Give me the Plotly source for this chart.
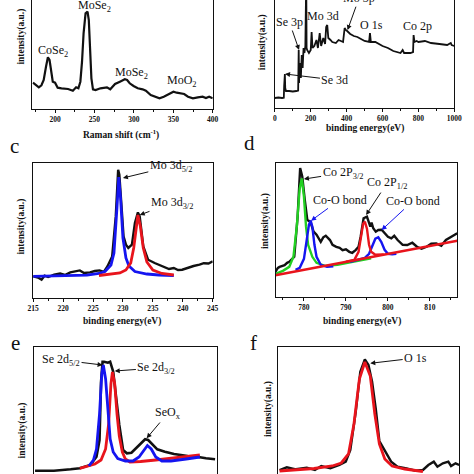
import plotly.graph_objects as go

# ---------------- data ----------------
# (a) Raman
raman_shift = [172.0,175.3,179.4,182.7,185.6,188.5,190.9,193.0,195.1,197.1,200.0,203.3,208.2,216.5,222.6,226.7,229.6,232.1,234.2,236.2,238.7,241.2,242.8,244.4,246.1,248.1,251.4,257.6,265.8,270.0,276.1,282.3,288.5,291.4,294.7,299.6,304.9,311.1,315.2,321.4,327.6,332.5,337.9,342.0,346.1,350.2,354.3,358.4,363.8,368.7,374.9,381.1,387.2,391.4,395.5,400.0]
raman_int = [26.3,24,21.7,23.7,29,42.3,51.7,49,37.3,27.3,26.3,21.3,20.7,20,18.3,21.7,20.7,27.3,47.3,75.7,95.7,97.3,89,59,30.7,19.7,19,20.7,21.7,19.7,25,27.3,29.7,29,25.7,23,20.7,19.7,18.3,14,12.3,10.7,12.3,14,15,17.3,16.3,15.7,15,12.3,10.7,11.7,12.3,11,12.3,10.7]

# (b) XPS survey
survey_e = [0,20,40,50,52,54,56,58,62,80,100,120,130,133,135,138,145,150,155,160,165,170,173,175,177,180,190,200,205,210,220,232,240,250,258,270,280,286,292,298,310,320,340,355,368,380,389,395,403,420,440,460,480,500,525,530,535,560,600,630,660,700,712,720,755,770,773,778,790,800,836,870,917,960,980,985,1000]
survey_int = [10,10.5,10,10.3,22,34,34,20,17,17,16.5,17,17.5,58,25,45,30,53,40,60,55,62,130,130,60,58,55,58,76,60,62,68,60,75,62,70,64,81,83,70,68,66,65,68,67,66,80,78,77,74,72,71,69,67,66,75,66,66,62,60,57,55,58,55,55,56,73,66,67,66,67,65,64,63,65,63,62]

# (c) Mo 3d
mo_e = [215,215.8,216.4,216.9,217.5,218.5,219.5,220.3,221.2,222.0,222.8,223.5,224.5,225.3,226.1,226.8,227.4,228.2,228.8,229.2,229.4,229.8,230.1,230.5,230.9,231.5,232.0,232.5,232.8,233.4,234.2,235.3,236.1,236.9,237.7,238.5,239.2,239.9,240.5,241.2,241.8,242.8,243.5,244.3,245]
mo_int = [21.6,20.5,18.3,22.3,21.0,23.3,24.5,23.0,25.6,26.5,27.6,25.0,25.6,27.0,27.6,26.2,31.6,41.6,81.6,128.3,123.3,88.3,61.6,53.3,50,53.3,75,85.6,81.6,51.6,38.3,35,33.2,31.6,29.0,30,28.0,28.3,29.5,31,32.0,33.3,34.8,34.5,36.6]
mo52_e = [215,220,224,226,227,228,228.5,229,229.3,229.6,230,230.5,231,232,234,236,238.5]
mo52_int = [21.6,22,22.8,24.5,26.5,33,45,90,121,100,60,40,32,26.5,24,23,22.5]
mo32_e = [226,228,229.5,230.5,231.3,231.8,232.2,232.5,232.9,233.4,234,235,236.5,238.5]
mo32_int = [22.5,23.5,25,28,35,50,72,83,72,50,36,28,24.5,23]

# (d) Co 2p
co_e = [773.2,773.8,774.2,775.4,776.0,776.5,777.7,778.5,779.1,779.6,780.2,780.8,781.5,782.3,783.0,783.5,784.0,784.6,785.2,786.2,786.8,787.7,788.5,789.2,790.0,790.8,791.5,792.3,793.0,793.5,794.2,795.0,795.8,796.1,796.5,797.1,797.7,798.5,799.2,800.0,800.8,801.5,802.3,803.5,804.6,805.8,806.9,808.0,809.2,810.3,811.5,812.7,813.8,815.0,816.5]
co_int = [25,29,30,31.7,34,35,40,80,128.4,120,96.7,76.7,75,65,62,58.4,55,59.4,61,56.7,52,50,49,46.7,47.5,45,44,46.7,50,60,78.4,80,70,74,68.4,65,66.7,67,63.4,60,58.4,61,56.7,52,51.7,54,50,48,50,53,53.4,51,56.7,60,63.4]
co_bg_e = [773.2,816.5]
co_bg_int = [21.7,56]
co12_e = [790,792,793,793.6,794.1,794.5,795,795.5,796,797,799]
co12_int = [35.2,37,45,60,73,75,68,52,45,42,42.3]
co32_e = [773.2,775,776.5,777.5,778.3,779,779.5,780,780.5,781,782,783,785,788,791,794,796]
co32_int = [23,26,30,40,70,108,118,100,70,52,40,34,31,32,34.5,37,38.5]
coo1_e = [778,779,780,780.6,781.2,781.6,782,782.5,783,784,785.5,787]
coo1_int = [27,29,38,55,72,76,70,52,40,32,30,30.5]
coo2_e = [791,793,794.5,795.5,796.3,797,797.7,798.4,799.2,800,801,802]
coo2_int = [35,37,39,43,52,58,59.5,55,47,43,42.5,43]

# (e) Se 3d
se_e = [51.06,52.3,53.4,54.0,54.7,55.1,55.3,55.4,55.5,55.6,55.85,56.0,56.2,56.4,56.6,56.85,57.1,57.4,57.8,58.1,58.3,58.5,58.8,59.1,59.6,60.2,61.1,61.7,62.3,62.9]
se_int = [3.3,3.3,4.7,5.7,9,17.3,34,92,112.3,112.3,111.3,112.3,102.3,75.7,49,24,20.7,21.3,27.3,32.3,34.7,34,29,24.7,22.3,20,18,17.3,15.7,14.7]
se52_e = [54.6,54.9,55.1,55.3,55.45,55.55,55.7,55.85,56.0,56.2,56.5,57,57.5,57.9,58.2,58.45,58.7,59.0,59.4,60,61,61.9]
se52_int = [8,14,25,60,100,109,95,60,35,22,15.5,13,13,17,24,28.5,25,17,13,13,15,17]
se32_e = [54.0,54.5,55.0,55.4,55.7,55.9,56.05,56.15,56.3,56.45,56.6,56.8,57.0,57.3,58,59,60,61,61.9]
se32_int = [5.7,7.5,10,14,25,50,90,102,90,60,38,22,15,12,12.5,14,15.7,17.5,19]

# (f) O 1s
o_e = [526.1,526.5,527.0,527.6,528.05,528.4,528.9,529.4,529.75,530.0,530.3,530.55,530.8,531.0,531.2,531.4,531.6,531.9,532.25,532.6,533.1,533.6,534.0,534.3,534.6,534.8,535.1,535.4,535.55,535.8,536]
o_int = [4,6.7,4.7,6.3,4,8,5.7,9,12.3,24,62.3,102.3,114.7,109,92.3,65.7,33,24,12.3,7.3,5.7,3.3,4,9,12.3,7.3,10.7,12.3,8,10.7,9]
ofit_e = [526.1,527,528,529,529.5,529.9,530.2,530.5,530.8,531.1,531.35,531.6,531.9,532.3,533,534]
ofit_int = [3,4.5,5.5,8,11,20,50,95,112,98,60,30,15,8,5,2.5]

# ---------------- figure ----------------
W = H = 474
SERIF = "Liberation Serif"
BLACK = "#111111"
BLUE = "#1515f0"
RED = "#e8141c"
GREEN = "#22d022"

def fx(p):
    return p / W

def fy(p):
    return 1 - p / H

fig = go.Figure()

def line(x, y, color, width, n):
    fig.add_trace(go.Scatter(
        x=x, y=y, mode="lines", line=dict(color=color, width=width),
        xaxis="x" if n == 1 else "x%d" % n, yaxis="y" if n == 1 else "y%d" % n,
        showlegend=False, hoverinfo="skip"))

line(raman_shift, raman_int, BLACK, 2.2, 1)
line(survey_e, survey_int, BLACK, 1.8, 2)
line(mo_e, mo_int, BLACK, 2.4, 3)
line(mo52_e, mo52_int, BLUE, 2.8, 3)
line(mo32_e, mo32_int, RED, 2.8, 3)
line(co_e, co_int, BLACK, 2.4, 4)
line(co32_e, co32_int, GREEN, 2.4, 4)
line(coo1_e, coo1_int, BLUE, 2.4, 4)
line(coo2_e, coo2_int, BLUE, 2.4, 4)
line(co12_e, co12_int, RED, 2.4, 4)
line(co_bg_e, co_bg_int, RED, 2.4, 4)
line(se_e, se_int, BLACK, 2.6, 5)
line(se32_e, se32_int, RED, 2.8, 5)
line(se52_e, se52_int, BLUE, 2.8, 5)
line(o_e, o_int, BLACK, 2.4, 6)
line(ofit_e, ofit_int, RED, 2.8, 6)

panels = {
    1: dict(xd=(27, 213), yd=(0, 109), xr=[171, 400], yr=[0, 109], dt=50, mdt=25, mode="topcut"),
    2: dict(xd=(277, 462), yd=(0, 108), xr=[0, 1000], yr=[0, 108], dt=200, mdt=100, mode="topcut"),
    3: dict(xd=(28, 213), yd=(163, 298), xr=[215, 245], yr=[0, 135], dt=5, mdt=2.5, mode="box"),
    4: dict(xd=(278, 465), yd=(163, 297), xr=[773.3, 816.5], yr=[0, 133.4], dt=10, mdt=5, mode="box"),
    5: dict(xd=(29, 217), yd=(347, 474), xr=[51, 63], yr=[0, 127], dt=2, mdt=1, mode="botcut"),
    6: dict(xd=(280, 467), yd=(347, 474), xr=[526, 536], yr=[0, 127], dt=2, mdt=1, mode="botcut"),
}

layout = dict(width=W, height=H, margin=dict(l=0, r=0, t=0, b=0),
              paper_bgcolor="white", plot_bgcolor="white", showlegend=False)

for n, p in panels.items():
    xk = "xaxis" if n == 1 else "xaxis%d" % n
    yk = "yaxis" if n == 1 else "yaxis%d" % n
    xa = dict(domain=[fx(p["xd"][0]), fx(p["xd"][1])], range=p["xr"],
              showgrid=False, zeroline=False, showline=True, linecolor=BLACK,
              linewidth=1.3, anchor="y" if n == 1 else "y%d" % n,
              tickfont=dict(family=SERIF, size=7.5, color=BLACK, weight="bold"))
    if p["mode"] == "botcut":
        xa.update(side="top", ticks="", showticklabels=False, mirror=False)
    else:
        xa.update(ticks="outside", ticklen=3, tickwidth=1, tickcolor=BLACK,
                  dtick=p["dt"], tick0=0, mirror=(p["mode"] == "box"),
                  minor=dict(dtick=p["mdt"], tick0=0, ticks="outside", ticklen=2,
                             tickcolor=BLACK, showgrid=False))
    ya = dict(domain=[fy(p["yd"][1]), fy(p["yd"][0])], range=p["yr"],
              showgrid=False, zeroline=False, showline=True, linecolor=BLACK,
              linewidth=1.3, mirror=True, ticks="", showticklabels=False,
              anchor="x" if n == 1 else "x%d" % n)
    layout[xk] = xa
    layout[yk] = ya

fig.update_layout(**layout)

ann = []

def label(text, x, y, n, size=12):
    ann.append(dict(text=text, x=x, y=y, xref="x" if n == 1 else "x%d" % n,
                    yref="y" if n == 1 else "y%d" % n, showarrow=False,
                    font=dict(family=SERIF, size=size, color=BLACK)))

def arrow(text, hx, hy, tx, ty, n, color=BLACK, size=12):
    xr = "x" if n == 1 else "x%d" % n
    yr = "y" if n == 1 else "y%d" % n
    ann.append(dict(text=text, x=hx, y=hy, ax=tx, ay=ty, xref=xr, yref=yr,
                    axref=xr, ayref=yr, showarrow=True, arrowhead=2, arrowsize=1,
                    arrowwidth=1, arrowcolor=color, standoff=0,
                    font=dict(family=SERIF, size=size, color=BLACK)))

# panel a
label("CoSe<sub>2</sub>", 198, 58, 1)
label("MoSe<sub>2</sub>", 249.5, 103, 1)
label("MoSe<sub>2</sub>", 296.7, 36, 1)
label("MoO<sub>2</sub>", 360.5, 28, 1)
# panel b
arrow("Se 3p", 135, 58, 81, 86, 2)
label("Mo 3d", 270, 92, 2)
arrow("Mo 3p", 405, 78, 469, 109.8, 2)
label("O 1s", 540, 83, 2)
label("Co 2p", 795, 82, 2)
arrow("Se 3d", 57, 34, 335, 28, 2)
# panel c
arrow("Mo 3d<sub>5/2</sub>", 230, 120, 238, 131.6, 3)
arrow("Mo 3d<sub>3/2</sub>", 232.8, 83, 238.2, 95, 3)
# panel d
arrow("Co 2P<sub>3/2</sub>", 780, 117.4, 789.2, 123.4, 4)
arrow("Co-O bond", 781.7, 76, 788.5, 96.7, 4, color=BLUE)
arrow("Co 2P<sub>1/2</sub>", 794.8, 81.7, 799.8, 113.4, 4)
arrow("Co-O bond", 798.5, 66.7, 806, 95.7, 4, color=BLUE)
# panel e
arrow("Se 2d<sub>5/2</sub>", 55.5, 109, 52.77, 114, 5)
arrow("Se 2d<sub>3/2</sub>", 56.3, 103, 59.04, 106, 5)
arrow("SeO<sub>x</sub>", 58.4, 35.7, 59.8, 61, 5)
# panel f
arrow("O 1s", 531.1, 110.7, 533.6, 116, 6)

def paper(text, x, y, size, bold=False, angle=0):
    ann.append(dict(text=text, x=fx(x), y=fy(y), xref="paper", yref="paper",
                    showarrow=False, textangle=angle, xanchor="center", yanchor="middle",
                    font=dict(family=SERIF, size=size, color=BLACK,
                              weight="bold" if bold else "normal")))

# axis titles
paper("Raman shift (cm<sup>-1</sup>)", 118, 135, 9.5, bold=True)
paper("binding energy(eV)", 370, 128, 9.5, bold=True)
paper("binding energy(eV)", 120, 321, 9.5, bold=True)
paper("binding energy(eV)", 367, 321, 9.5, bold=True)
paper("intensity(a.u.)", 15, 37, 9.5, bold=True, angle=-90)
paper("intensity(a.u.)", 264, 42, 9.5, bold=True, angle=-90)
paper("intensity(a.u.)", 15, 227, 9.5, bold=True, angle=-90)
paper("intensity(a.u.)", 268, 221, 9.5, bold=True, angle=-90)
paper("intensity(a.u.)", 17, 430, 9.5, bold=True, angle=-90)
paper("intensity(a.u.)", 270, 409, 9.5, bold=True, angle=-90)
# panel letters
paper("c", 9, 146, 21)
paper("d", 251, 143, 21)
paper("e", 10, 343, 21)
paper("f", 255, 343, 21)

fig.update_layout(annotations=ann)

fig.write_html("out.html", config={"displayModeBar": False},
               post_script="document.body.style.margin='0';")
